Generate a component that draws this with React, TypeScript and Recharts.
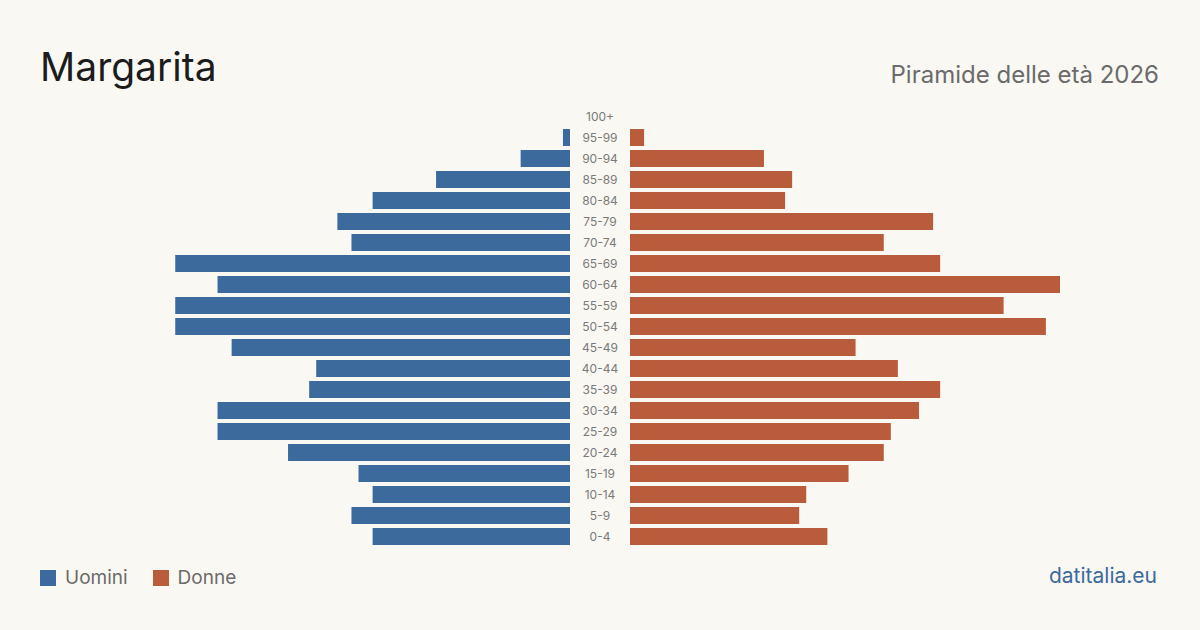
import { Bar, BarChart, XAxis, YAxis } from "recharts";

const ageGroups = [
  "100+", "95-99", "90-94", "85-89", "80-84", "75-79", "70-74", "65-69", "60-64", "55-59",
  "50-54", "45-49", "40-44", "35-39", "30-34", "25-29", "20-24", "15-19", "10-14", "5-9", "0-4",
];
const men = [0, 1, 7, 19, 28, 33, 31, 56, 50, 56, 56, 48, 36, 37, 50, 50, 40, 30, 28, 31, 28];
const women = [0, 2, 19, 23, 22, 43, 36, 44, 61, 53, 59, 32, 38, 44, 41, 37, 36, 31, 25, 24, 28];

const BLUE = "#3c6a9c";
const RUST = "#b95c3c";
const BG = "#f9f8f3";
const FONT = "Inter, 'Noto Sans', sans-serif";

const rows = ageGroups.map((age, i) => ({ age, men: men[i], women: women[i] }));
const maxVal = Math.max(...men, ...women);

const TOP = 105.5;
const HEIGHT = 441;

function AgeTick(props: any) {
  const { y, payload } = props;
  return (
    <text x={30} y={y} textAnchor="middle" dominantBaseline="central" fontSize={12} fill="#7a7a7a" fontFamily={FONT}>
      {payload.value}
    </text>
  );
}

export default function App() {
  return (
    <div style={{ position: "absolute", left: 0, top: 0, width: 1200, height: 630, background: BG, fontFamily: FONT, overflow: "hidden" }}>
      <div style={{ position: "absolute", left: 40, top: 43, fontSize: 39, lineHeight: "48px", color: "#1c1c1c" }}>Margarita</div>
      <div style={{ position: "absolute", right: 41, top: 61, fontSize: 24, lineHeight: "28px", color: "#6b6b6b" }}>
        Piramide delle età 2026
      </div>

      {/* men, growing leftwards */}
      <div style={{ position: "absolute", left: 140, top: TOP }}>
        <BarChart width={430} height={HEIGHT} data={rows} layout="vertical" margin={{ top: 0, right: 0, bottom: 0, left: 0 }}>
          <XAxis type="number" domain={[0, maxVal]} reversed hide />
          <YAxis type="category" dataKey="age" hide />
          <Bar dataKey="men" fill={BLUE} barSize={17} isAnimationActive={false} />
        </BarChart>
      </div>

      {/* women, with the age labels in the middle column */}
      <div style={{ position: "absolute", left: 570, top: TOP }}>
        <BarChart width={490} height={HEIGHT} data={rows} layout="vertical" margin={{ top: 0, right: 0, bottom: 0, left: 0 }}>
          <XAxis type="number" domain={[0, maxVal]} hide />
          <YAxis type="category" dataKey="age" width={60} axisLine={false} tickLine={false} tick={<AgeTick />} interval={0} />
          <Bar dataKey="women" fill={RUST} barSize={17} isAnimationActive={false} />
        </BarChart>
      </div>

      <div style={{ position: "absolute", left: 40, top: 566, display: "flex", alignItems: "center", fontSize: 19, color: "#6b6b6b" }}>
        <span style={{ width: 16, height: 16, background: BLUE, display: "inline-block", marginRight: 9 }} />
        <span style={{ marginRight: 25 }}>Uomini</span>
        <span style={{ width: 16, height: 16, background: RUST, display: "inline-block", marginRight: 9 }} />
        <span>Donne</span>
      </div>
      <div style={{ position: "absolute", right: 43, top: 563, fontSize: 21, color: BLUE }}>datitalia.eu</div>
    </div>
  );
}
